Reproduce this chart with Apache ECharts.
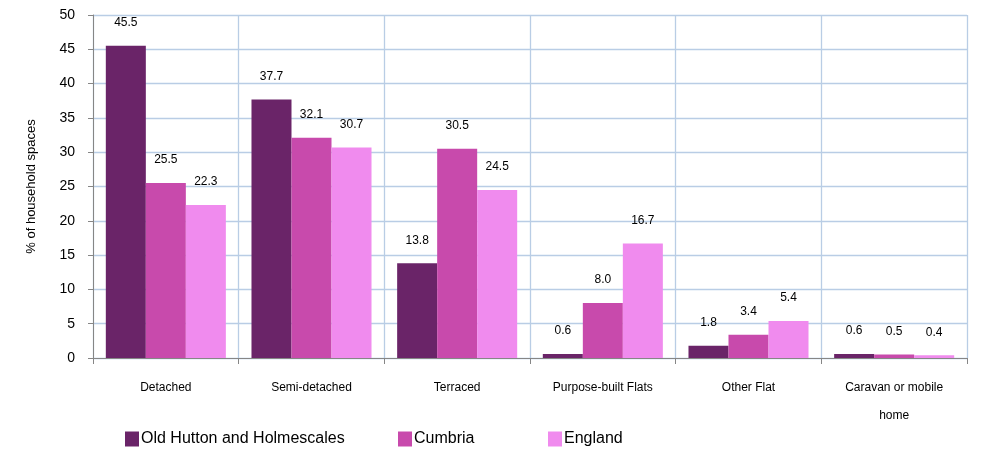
<!DOCTYPE html>
<html><head><meta charset="utf-8">
<script src="https://cdn.jsdelivr.net/npm/echarts@6/dist/echarts.min.js"></script>
<style>html,body{margin:0;padding:0;background:#fff}#c{width:987px;height:451px}</style>
</head><body><div id="c"></div>
<script>
var categories = ['Detached','Semi-detached','Terraced','Purpose-built Flats','Other Flat','Caravan or mobile\nhome'];
var seriesNames = ['Old Hutton and Holmescales','Cumbria','England'];
var oldHutton = [45.5, 37.7, 13.8, 0.6, 1.8, 0.6];
var cumbria = [25.5, 32.1, 30.5, 8.0, 3.4, 0.5];
var england = [22.3, 30.7, 24.5, 16.7, 5.4, 0.4];
var colors = ['#6a2468', '#c84aac', '#f08bee'];
var yAxisName = '% of household spaces';

var chart = echarts.init(document.getElementById('c'), null, {renderer:'canvas'});
var font = 'Liberation Sans, Arial, sans-serif';
function mk(name, data, color){
  return {
    name: name, type: 'bar', data: data, barGap: '0%', barCategoryGap: '17.6%',
    itemStyle: {color: color},
    label: {show: true, position: 'top', distance: 17, color: '#000', fontSize: 12, fontFamily: font,
      formatter: function(p){ return p.value.toFixed(1); }}
  };
}
var legendBase = {top: 426, itemWidth: 14, itemHeight: 15, icon: 'rect', itemGap: 4,
  textStyle: {fontSize: 16, fontFamily: font, color: '#000', padding: [0,0,0,-3]}};
chart.setOption({
  animation: false,
  grid: {left: 93, right: 20, top: 15, bottom: 93},
  legend: [
    Object.assign({}, legendBase, {left: 120, data: [seriesNames[0]]}),
    Object.assign({}, legendBase, {left: 393, data: [seriesNames[1]]}),
    Object.assign({}, legendBase, {left: 543, data: [seriesNames[2]]})
  ],
  xAxis: {
    type: 'category', data: categories,
    axisLine: {lineStyle: {color: '#868686', width: 1}},
    axisTick: {show: true, length: 6, lineStyle: {color: '#868686'}},
    axisLabel: {color: '#000', fontSize: 12, fontFamily: font, margin: 16, lineHeight: 28, interval: 0},
    splitLine: {show: true, lineStyle: {color: '#b9cde5', width: 1.3}}
  },
  yAxis: {
    type: 'value', min: 0, max: 50, interval: 5,
    name: yAxisName, nameLocation: 'middle', nameGap: 55, nameRotate: 90,
    nameTextStyle: {color: '#000', fontSize: 13, fontFamily: font},
    axisLine: {show: true, lineStyle: {color: '#868686', width: 1}},
    axisTick: {show: true, length: 5, lineStyle: {color: '#868686'}},
    axisLabel: {color: '#000', fontSize: 14, fontFamily: font, margin: 18},
    splitLine: {show: true, lineStyle: {color: '#b9cde5', width: 1.3}}
  },
  series: [mk(seriesNames[0], oldHutton, colors[0]), mk(seriesNames[1], cumbria, colors[1]), mk(seriesNames[2], england, colors[2])]
});
</script></body></html>
